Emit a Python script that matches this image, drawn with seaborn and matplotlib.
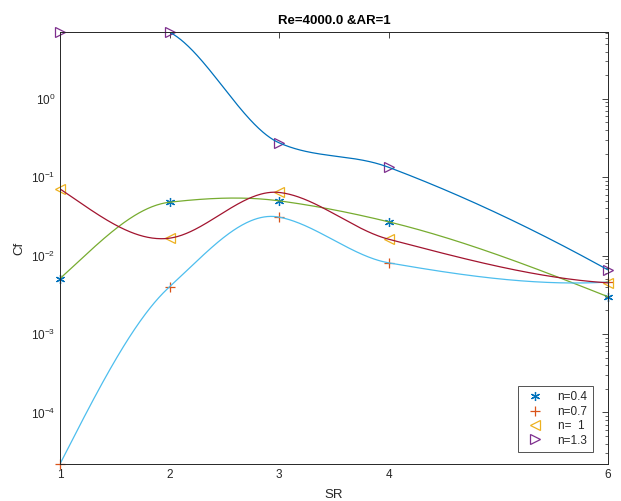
import numpy as np
import pandas as pd
import matplotlib
matplotlib.use("Agg")
import matplotlib.pyplot as plt
import seaborn as sns
from matplotlib.ticker import LogLocator, NullFormatter, FixedLocator

# ---- data ----
SR = [1, 2, 3, 4, 6]
cf_n04 = [0.0051, 0.048, 0.050, 0.027, 0.0030]
cf_n07 = [2.2e-5, 0.0040, 0.031, 0.0081, 0.0046]
cf_n10 = [0.071, 0.0167, 0.064, 0.0162, 0.0045]
cf_n13 = [7.1, 7.1, 0.275, 0.134, 0.0066]
labels = ["n=0.4", "n=0.7", "n=  1", "n=1.3"]
title = "Re=4000.0 &AR=1"

series = [cf_n04, cf_n07, cf_n10, cf_n13]
marker_colors = ["#0072BD", "#D95319", "#EDB120", "#7E2F8E"]
line_colors = ["#77AC30", "#4DBEEE", "#A2142F", "#0072BD"]
markers = [(6, 2, 0), "+", "<", ">"]


def makima(x, y, xx):
    """Modified Akima piecewise cubic through the data points (smooth curve)."""
    x = np.asarray(x, float)
    y = np.asarray(y, float)
    d = np.diff(y) / np.diff(x)
    n = len(x)
    dd = np.concatenate([[3 * d[0] - 2 * d[1], 2 * d[0] - d[1]], d,
                         [2 * d[-1] - d[-2], 3 * d[-1] - 2 * d[-2]]])
    s = np.zeros(n)
    for k in range(n):
        dm2, dm1, d0, d1 = dd[k], dd[k + 1], dd[k + 2], dd[k + 3]
        w1 = abs(d1 - d0) + abs(d1 + d0) / 2
        w2 = abs(dm1 - dm2) + abs(dm1 + dm2) / 2
        s[k] = 0.0 if w1 + w2 == 0 else (w1 * dm1 + w2 * d0) / (w1 + w2)
    i = np.clip(np.searchsorted(x, xx) - 1, 0, n - 2)
    h = x[i + 1] - x[i]
    t = (xx - x[i]) / h
    h00 = 2 * t ** 3 - 3 * t ** 2 + 1
    h10 = t ** 3 - 2 * t ** 2 + t
    h01 = -2 * t ** 3 + 3 * t ** 2
    h11 = t ** 3 - t ** 2
    return h00 * y[i] + h10 * h * s[i] + h01 * y[i + 1] + h11 * h * s[i + 1]


sns.set_style("white")
plt.rcParams["font.family"] = ["Liberation Sans", "DejaVu Sans"]

fig = plt.figure(figsize=(6.21, 5.01), dpi=100)
ax = fig.add_axes([0.0966, 0.0739, 0.882, 0.862])

for vals, mc, mk, lab in zip(series, marker_colors, markers, labels):
    df = pd.DataFrame({"SR": SR, "Cf": vals})
    hollow = mk in ("<", ">")
    kw = dict(markerfacecolor="none") if hollow else {}
    sns.lineplot(data=df, x="SR", y="Cf", ax=ax, linestyle="", marker=mk,
                 color=mc, markeredgecolor=mc, markersize=7 if hollow else 6.5,
                 markeredgewidth=0.9, label=lab, clip_on=False, **kw)

xx = np.linspace(SR[0], SR[-1], 500)
for vals, lc in zip(series, line_colors):
    yy = 10 ** makima(SR, np.log10(vals), xx)
    dfl = pd.DataFrame({"SR": xx, "Cf": yy})
    sns.lineplot(data=dfl, x="SR", y="Cf", ax=ax, color=lc, linewidth=0.9,
                 legend=False, sort=False, estimator=None)

ax.set_yscale("log")
ax.set_xlim(SR[0], SR[-1])
all_vals = np.concatenate([np.asarray(s) for s in series])
ax.set_ylim(all_vals.min(), all_vals.max())
ax.xaxis.set_major_locator(FixedLocator(SR))
ax.yaxis.set_major_locator(LogLocator(base=10, numticks=12))
ax.yaxis.set_minor_locator(LogLocator(base=10, subs=np.arange(2, 10), numticks=12))
ax.yaxis.set_minor_formatter(NullFormatter())

ax.tick_params(axis="both", which="both", direction="in", top=True, right=True,
               labelsize=8.5, colors="#262626", labelcolor="#262626")
ax.tick_params(axis="both", which="major", length=4, width=0.6)
ax.tick_params(axis="y", which="minor", length=2.2, width=0.5)
for sp in ax.spines.values():
    sp.set_color("#262626")
    sp.set_linewidth(0.7)

ax.set_xlabel("SR", fontsize=9.5, color="#262626", labelpad=6)
ax.set_ylabel("Cf", fontsize=9.5, color="#262626", labelpad=4)
ax.set_title(title, fontsize=9.5, fontweight="bold", color="#000000", pad=6)

leg = ax.legend(loc="lower right", fontsize=8.5, frameon=True, fancybox=False,
                edgecolor="#262626", handlelength=2.0, borderpad=0.45,
                labelspacing=0.2, handletextpad=0.9, borderaxespad=0,
                bbox_to_anchor=(0.973, 0.028))
leg.get_frame().set_linewidth(0.7)

fig.savefig("out.png", dpi=100, facecolor="white")
